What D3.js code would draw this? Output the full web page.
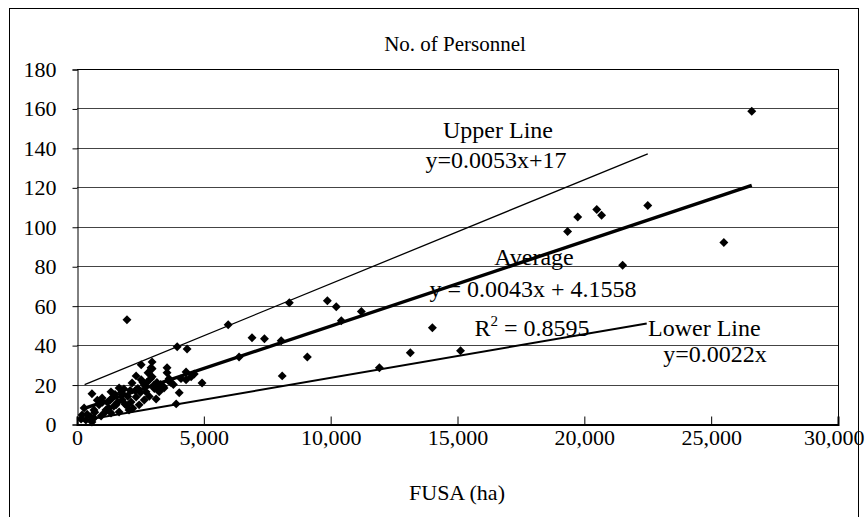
<!DOCTYPE html>
<html>
<head>
<meta charset="UTF-8">
<title>No. of Personnel</title>
<script src="https://cdnjs.cloudflare.com/ajax/libs/d3/7.8.5/d3.min.js"></script>
<style>
html, body { margin: 0; padding: 0; background: #fff; }
svg { font-family: 'Liberation Serif', 'Times New Roman', serif; display: block; }
</style>
</head>
<body>
<script>
// FUSA (ha) vs No. of Personnel
var fusa = [
  26600, 22500, 20680, 20490, 19740, 19340, 25500, 21510,
  14010, 15120, 13140, 11920, 11210, 10420, 10220, 9870, 8370, 9080, 8090, 8050,
  7390, 6900, 6390, 5960, 4930, 4340, 3950, 1970,
  3550, 2960, 3550, 4620, 4300, 2960, 3630, 4100, 4300, 3120, 3430, 3240, 4030, 3120, 3910,
  590, 1340, 2920, 2800, 2530, 2330, 2170, 2650, 3040, 3240, 1660, 1850, 990, 1380,
  1780, 2330, 2650, 1540, 1970, 2450, 870, 670, 280, 1140, 1660, 200, 550, 950, 160,
  670, 590, 1340, 2050, 2130, 2720, 2530, 2960, 1200, 1500, 2000, 2200, 2400, 2600,
  1900, 2300, 3300, 3700, 1000, 1450, 1750, 2850, 3050, 400, 800, 1250,
  1600, 1800, 2100, 2500, 2750, 3400, 3600, 3800, 1100, 1300, 2900, 3150, 700, 350, 4500
];
var personnel = [
  158.6, 110.8, 105.8, 108.8, 105, 97.6, 92, 80.5,
  48.8, 37.1, 36.1, 28.5, 57, 52.4, 59.5, 62.5, 61.5, 34, 24.4, 42.2,
  43.2, 43.7, 34, 50.3, 20.8, 38, 39.2, 52.9,
  28.5, 28, 26, 25.4, 26.4, 24, 23, 23, 22.4, 19.8, 18.3, 17.3, 15.8, 12.7, 10.2,
  15.3, 16.3, 28.5, 26, 22.4, 24.4, 20.8, 19.8, 19.8, 16.3, 18.3, 17.8, 13.2, 13.2,
  12.2, 13.7, 12.2, 9.7, 9.2, 9.7, 9.7, 7.1, 8.1, 7.1, 6.1, 4.6, 3.6, 4.1, 2.5,
  3, 1, 5.6, 7.1, 11.2, 16.3, 30, 31.5, 11, 15, 14, 8, 18, 21,
  10, 17, 20, 21, 11, 9, 16, 14, 18, 5, 12, 8,
  11, 15, 17, 16, 21, 19, 22, 20, 6, 12, 23, 21, 6, 2, 24
];

// guide lines as [x, y] end points
var upperLine = [[300, 20], [22500, 137]];
var averageLine = [[200, 7.5], [26600, 121]];
var lowerLine = [[100, 1.5], [22460, 51]];

var xTicks = [0, 5000, 10000, 15000, 20000, 25000, 30000];
var yTicks = [0, 20, 40, 60, 80, 100, 120, 140, 160, 180];

var W = 865, H = 517;
var svg = d3.select("body").append("svg")
    .attr("width", W)
    .attr("height", H);

// outer chart border
svg.append("rect")
    .attr("x", 9.5).attr("y", 8.5)
    .attr("width", 849).attr("height", 530)
    .attr("fill", "none").attr("stroke", "#000").attr("stroke-width", 1);

var x = d3.scaleLinear().domain([0, 30000]).range([77, 838]);
var y = d3.scaleLinear().domain([0, 180]).range([424, 69]);

// gridlines
svg.append("g").selectAll("line")
    .data(yTicks.filter(function (d) { return d > 0; }))
    .join("line")
    .attr("x1", x(0)).attr("x2", x(30000))
    .attr("y1", function (d) { return Math.round(y(d)) + 0.5; })
    .attr("y2", function (d) { return Math.round(y(d)) + 0.5; })
    .attr("stroke", function (d) { return d == 180 ? "#000" : "#444"; })
    .attr("stroke-width", 1);

// right edge of plot area
svg.append("line")
    .attr("x1", x(30000) + 0.5).attr("x2", x(30000) + 0.5)
    .attr("y1", y(180)).attr("y2", y(0))
    .attr("stroke", "#000");

// y axis
var yAxis = d3.axisLeft(y).tickValues(yTicks).tickSize(5).tickPadding(16);
svg.append("g")
    .attr("transform", "translate(" + (x(0) + 0.5) + ",0.5)")
    .call(yAxis);

// x axis, ticks pointing up into the plot
var xAxis = d3.axisBottom(x).tickValues(xTicks).tickSize(-8).tickPadding(5)
    .tickFormat(d3.format(","));
var gx = svg.append("g")
    .attr("transform", "translate(0," + (y(0) + 0.5) + ")")
    .call(xAxis);
gx.select(".domain").attr("stroke-width", 2);

svg.selectAll(".tick text")
    .attr("font-family", "'Liberation Serif', serif")
    .attr("font-size", 22)
    .attr("fill", "#000");
svg.selectAll(".domain").attr("stroke", "#000");

// last x label sits against the right edge of the window
gx.selectAll(".tick text")
    .filter(function (d) { return d == 30000; })
    .attr("text-anchor", "end")
    .attr("x", 26);

// guide lines
var line = d3.line()
    .x(function (d) { return x(d[0]); })
    .y(function (d) { return y(d[1]); });

svg.append("path").datum(upperLine).attr("d", line)
    .attr("fill", "none").attr("stroke", "#000").attr("stroke-width", 1.3);
svg.append("path").datum(averageLine).attr("d", line)
    .attr("fill", "none").attr("stroke", "#000").attr("stroke-width", 3.4);
svg.append("path").datum(lowerLine).attr("d", line)
    .attr("fill", "none").attr("stroke", "#000").attr("stroke-width", 2);

// points
var diamond = d3.symbol(d3.symbolSquare, 40);
svg.append("g").selectAll("path")
    .data(d3.range(fusa.length))
    .join("path")
    .attr("d", diamond)
    .attr("transform", function (i) {
        return "translate(" + x(fusa[i]) + "," + y(personnel[i]) + ") rotate(45)";
    })
    .attr("fill", "#000");

// titles
svg.append("text")
    .attr("x", 455).attr("y", 51)
    .attr("text-anchor", "middle")
    .attr("font-size", 21)
    .text("No. of Personnel");
svg.append("text")
    .attr("x", 457).attr("y", 500)
    .attr("text-anchor", "middle")
    .attr("font-size", 22)
    .text("FUSA (ha)");

// annotations
var notes = svg.append("g").attr("font-size", 24).attr("fill", "#000");
notes.append("text").attr("x", 498).attr("y", 138).attr("text-anchor", "middle").text("Upper Line");
notes.append("text").attr("x", 496).attr("y", 168).attr("text-anchor", "middle").text("y=0.0053x+17");
notes.append("text").attr("x", 534).attr("y", 265).attr("text-anchor", "middle").text("Average");
notes.append("text").attr("x", 533).attr("y", 297).attr("text-anchor", "middle").text("y = 0.0043x + 4.1558");
var r2 = notes.append("text").attr("x", 532).attr("y", 336).attr("text-anchor", "middle");
r2.append("tspan").text("R");
r2.append("tspan").attr("dy", -10).attr("font-size", 15).text("2");
r2.append("tspan").attr("dy", 10).text(" = 0.8595");
notes.append("text").attr("x", 648).attr("y", 336).text("Lower Line");
notes.append("text").attr("x", 715).attr("y", 362).attr("text-anchor", "middle").text("y=0.0022x");
</script>
</body>
</html>
